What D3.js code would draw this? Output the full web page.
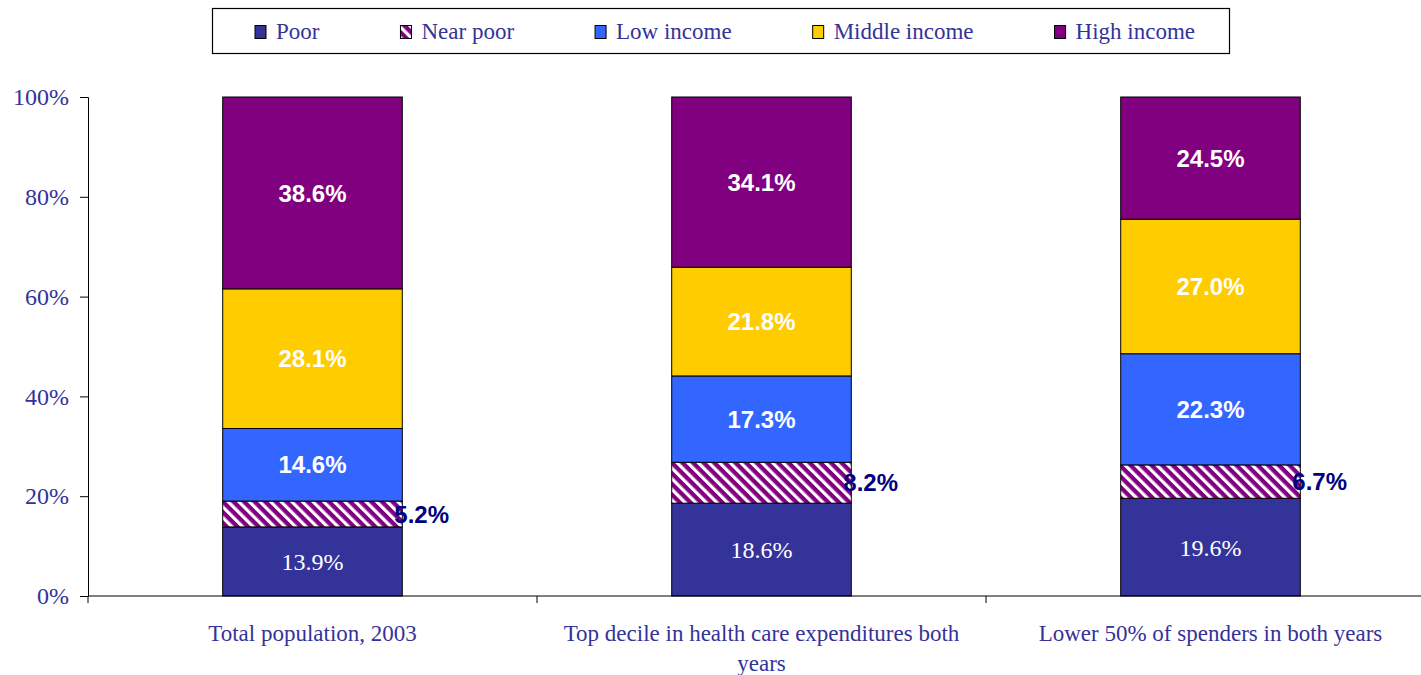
<!DOCTYPE html>
<html>
<head>
<meta charset="utf-8">
<script src="https://cdn.jsdelivr.net/npm/d3@7"></script>
<style>
  body { margin: 0; background: #fff; }
  svg { display: block; }
</style>
</head>
<body>
<div id="chart-div"></div>
<script>
// data
const categories = ['Total population, 2003', 'Top decile in health care expenditures both years', 'Lower 50% of spenders in both years'];
const seriesNames = ['Poor', 'Near poor', 'Low income', 'Middle income', 'High income'];
const poor = [13.9, 18.6, 19.6];
const nearPoor = [5.2, 8.2, 6.7];
const lowIncome = [14.6, 17.3, 22.3];
const middleIncome = [28.1, 21.8, 27.0];
const highIncome = [38.6, 34.1, 24.5];
const yTicks = [0, 0.2, 0.4, 0.6, 0.8, 1];

const WIDTH = 1421;
const HEIGHT = 675;
const MARGIN = { left: 88, right: -14, top: 97, bottom: 79 };
const TEXT_BLUE = '#333399';
const SERIF = '"Liberation Serif", "Times New Roman", serif';
const SANS = '"Liberation Sans", Arial, sans-serif';

const colors = {
  'Poor': '#333399',
  'Near poor': 'url(#hatch)',
  'Low income': '#3366ff',
  'Middle income': '#ffcc00',
  'High income': '#800080'
};

const allSeries = [poor, nearPoor, lowIncome, middleIncome, highIncome];
const table = categories.map((c, i) => {
  const row = { category: c };
  seriesNames.forEach((s, j) => row[s] = allSeries[j][i]);
  return row;
});

const svg = d3.select('#chart-div')
  .append('svg')
  .attr('width', WIDTH)
  .attr('height', HEIGHT);

// hatch pattern for "Near poor"
const pattern = svg.append('defs')
  .append('pattern')
  .attr('id', 'hatch')
  .attr('patternUnits', 'userSpaceOnUse')
  .attr('width', 7.5)
  .attr('height', 7.5)
  .attr('patternTransform', 'rotate(-45)');
pattern.append('rect').attr('width', 7.5).attr('height', 7.5).attr('fill', '#800080');
pattern.append('rect').attr('width', 3.2).attr('height', 7.5).attr('fill', '#ffffff');

const x = d3.scaleBand()
  .domain(categories)
  .range([MARGIN.left, WIDTH - MARGIN.right])
  .paddingInner(0.6)
  .paddingOuter(0.3);

const y = d3.scaleLinear()
  .domain([0, 1])
  .range([HEIGHT - MARGIN.bottom, MARGIN.top]);

const stacked = d3.stack()
  .keys(seriesNames)
  .offset(d3.stackOffsetExpand)(table);

// bars
const layers = svg.append('g')
  .selectAll('g')
  .data(stacked)
  .join('g')
  .attr('fill', d => colors[d.key]);

layers.selectAll('rect')
  .data(d => d)
  .join('rect')
  .attr('x', d => x(d.data.category))
  .attr('y', d => y(d[1]))
  .attr('width', x.bandwidth())
  .attr('height', d => y(d[0]) - y(d[1]))
  .attr('stroke', '#000')
  .attr('stroke-width', 1);

// value labels
stacked.forEach(layer => {
  const isNear = layer.key === 'Near poor';
  const isPoor = layer.key === 'Poor';
  svg.append('g')
    .selectAll('text')
    .data(layer)
    .join('text')
    .attr('x', d => isNear
      ? x(d.data.category) + x.bandwidth() - 8
      : x(d.data.category) + x.bandwidth() / 2)
    .attr('y', d => (y(d[0]) + y(d[1])) / 2)
    .attr('dy', '0.36em')
    .attr('text-anchor', isNear ? 'start' : 'middle')
    .style('font-family', isPoor ? SERIF : SANS)
    .style('font-weight', isPoor ? 'normal' : 'bold')
    .style('font-size', '24px')
    .attr('fill', isNear ? '#000080' : '#ffffff')
    .text(d => d.data[layer.key].toFixed(1) + '%');
});

// y axis
const yAxis = svg.append('g')
  .attr('transform', `translate(${MARGIN.left},0)`)
  .call(d3.axisLeft(y).tickValues(yTicks).tickFormat(d3.format('.0%')).tickSizeOuter(0).tickSize(8).tickPadding(11));
yAxis.select('.domain').attr('stroke', '#000');
yAxis.selectAll('text')
  .style('font-family', SERIF)
  .style('font-size', '24px')
  .attr('fill', TEXT_BLUE);

// x axis line and category ticks
const base = y(0);
svg.append('line')
  .attr('x1', MARGIN.left).attr('x2', WIDTH)
  .attr('y1', base).attr('y2', base)
  .attr('stroke', '#000');
const bounds = [MARGIN.left].concat(categories.map(c => x(c) - x.step() * x.paddingOuter() + x.step()));
svg.append('g')
  .selectAll('line')
  .data(bounds)
  .join('line')
  .attr('x1', d => d).attr('x2', d => d)
  .attr('y1', base).attr('y2', base + 7)
  .attr('stroke', '#000');

// category labels, wrapped
const catText = svg.append('g')
  .selectAll('text')
  .data(categories)
  .join('text')
  .attr('x', d => x(d) + x.bandwidth() / 2)
  .attr('y', base + 45)
  .attr('text-anchor', 'middle')
  .style('font-family', SERIF)
  .style('font-size', '23px')
  .attr('fill', TEXT_BLUE);

catText.each(function(d) {
  const t = d3.select(this);
  const words = d.split(' ');
  let line = [];
  let tspan = t.append('tspan').attr('x', t.attr('x')).attr('dy', 0);
  words.forEach(w => {
    line.push(w);
    tspan.text(line.join(' '));
    if (tspan.node().getComputedTextLength() > 425 && line.length > 1) {
      line.pop();
      tspan.text(line.join(' '));
      line = [w];
      tspan = t.append('tspan').attr('x', t.attr('x')).attr('dy', 30).text(w);
    }
  });
});

// legend
const legend = svg.append('g');
legend.append('rect')
  .attr('x', 212.5).attr('y', 8.5)
  .attr('width', 1017).attr('height', 45)
  .attr('fill', '#fff')
  .attr('stroke', '#000')
  .attr('stroke-width', 1.2);

let lx = 255;
seriesNames.forEach(s => {
  legend.append('rect')
    .attr('x', lx).attr('y', 25.5)
    .attr('width', 11).attr('height', 13)
    .attr('fill', colors[s])
    .attr('stroke', '#000');
  const txt = legend.append('text')
    .attr('x', lx + 21)
    .attr('y', 39)
    .style('font-family', SERIF)
    .style('font-size', '23px')
    .attr('fill', TEXT_BLUE)
    .text(s);
  lx += 21 + txt.node().getComputedTextLength() + 81;
});
</script>
</body>
</html>
